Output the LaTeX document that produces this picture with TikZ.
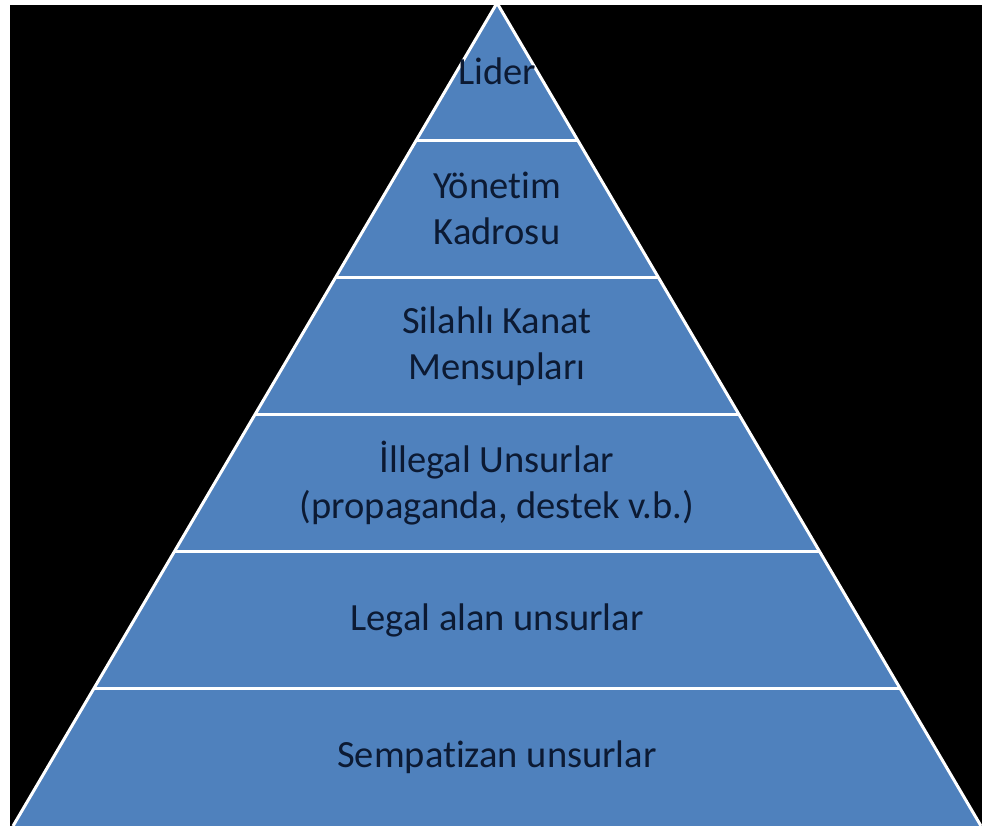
\documentclass[tikz,border=0pt]{standalone}
\usepackage{fontspec}
\setmainfont{Carlito}[Ligatures=NoCommon]
\usetikzlibrary{calc}
\definecolor{pyrblue}{HTML}{4F81BD}
\definecolor{pyrtext}{HTML}{0C1A33}
\begin{document}
\begin{tikzpicture}[x=1pt, y=1pt,
    level/.style={text=pyrtext, align=center, font=\fontsize{38.5}{46}\selectfont},
    rim/.style={white, line width=3pt}]
  \useasboundingbox (0,0) rectangle (982,826);
  \fill[white] (0,0) rectangle (982,826);
  \fill[black] (10,0) rectangle (982,821);
  % pyramid corners
  \coordinate (top) at (497,823);
  \coordinate (baseL) at (13,0);
  \coordinate (baseR) at (981,0);
  \coordinate (baseM) at (497,0);
  \fill[pyrblue] (baseL) -- (top) -- (baseR) -- cycle;
  \foreach \k in {1,...,5}
    \draw[rim] ($(baseL)!\k/6!(top)$) -- ($(baseR)!\k/6!(top)$);
  \draw[rim, line join=miter] (baseL) -- (top) -- (baseR);
  % levels, bottom to top
  \foreach \txt [count=\i] in {Sempatizan unsurlar, Legal alan unsurlar,
      {İllegal Unsurlar\\(propaganda, destek v.b.)}, {Silahlı Kanat\\Mensupları},
      {Yönetim\\Kadrosu}, Lider}
    \node[level] (lvl\i) at ($(baseM)!{(\i-0.5)/6}!(top)$) {\txt};
\end{tikzpicture}
\end{document}
